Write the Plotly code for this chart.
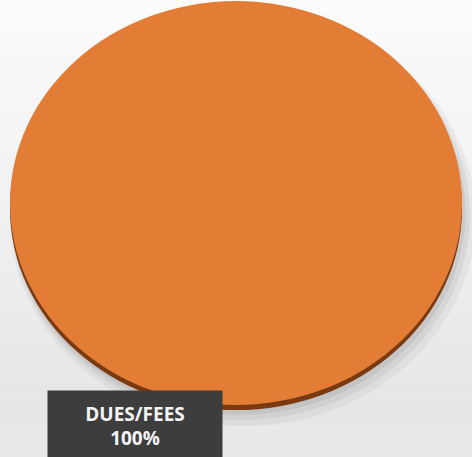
import plotly.graph_objects as go

labels = ["DUES/FEES"]
values = [100]
colors = ["#E37D35"]
rim_color = "#7A3A10"

W, H = 472, 457

def px_domain(cx, cy, r):
    return dict(x=[(cx - r) / W, (cx + r) / W], y=[1 - (cy + r) / H, 1 - (cy - r) / H])

fig = go.Figure()
# soft shadow layers
for k, (dx, dy, dr, a) in enumerate([(6, 14, 6, 0.10), (4, 11, 3, 0.14), (2, 8, 1, 0.18)]):
    fig.add_trace(go.Pie(labels=labels, values=values,
                         marker=dict(colors=[f"rgba(140,140,140,{a})"], line=dict(width=0)),
                         domain=px_domain(236 + dx, 204 + dy, 202 + dr), textinfo="none",
                         hoverinfo="skip", showlegend=False, sort=False))
# rim
fig.add_trace(go.Pie(labels=labels, values=values, marker=dict(colors=[rim_color], line=dict(width=0)),
                     domain=px_domain(236, 208, 202), textinfo="none", hoverinfo="skip", showlegend=False, sort=False))
# top
fig.add_trace(go.Pie(labels=labels, values=values, marker=dict(colors=colors, line=dict(width=0)),
                     domain=px_domain(236, 203, 202), textinfo="none", showlegend=False, sort=False))

pct = [v / sum(values) * 100 for v in values]

shapes = []
n = 30
for i in range(n):
    t = i / (n - 1)
    g = int(252 - 22 * t)
    shapes.append(dict(type="rect", xref="paper", yref="paper", x0=0, x1=1,
                       y0=1 - (i + 1) / n * (425 / H), y1=1 - i / n * (425 / H),
                       fillcolor=f"rgb({g},{g},{g})", line=dict(width=0), layer="below"))
shapes.append(dict(type="rect", xref="paper", yref="paper", x0=0, x1=1, y0=0, y1=1 - 425 / H,
                   fillcolor="#e9e9e9", line=dict(width=0), layer="below"))

fig.update_layout(
    width=W, height=H,
    margin=dict(l=0, r=0, t=0, b=0),
    paper_bgcolor="#f2f2f2",
    plot_bgcolor="#f2f2f2",
    shapes=shapes,
    annotations=[dict(
        x=135 / W, y=1 - 390 / H, xref="paper", yref="paper", xanchor="center", yanchor="top",
        text=f"<b>{labels[0]}<br>{pct[0]:.0f}%</b>", showarrow=False,
        font=dict(family="Open Sans", size=19, color="#f4f4f4"),
        bgcolor="#3d3d3d", width=174, height=70, align="center", valign="middle", borderpad=0,
    )],
)

post = """
document.body.style.margin='0';
document.documentElement.style.margin='0';
var s = 452/404;
document.querySelectorAll('.pielayer').forEach(function(g){
  g.setAttribute('transform','translate(236,0) scale('+s+',1) translate(-236,0)');
});
"""
fig.write_html("out.html", post_script=post, config={"displayModeBar": False})
